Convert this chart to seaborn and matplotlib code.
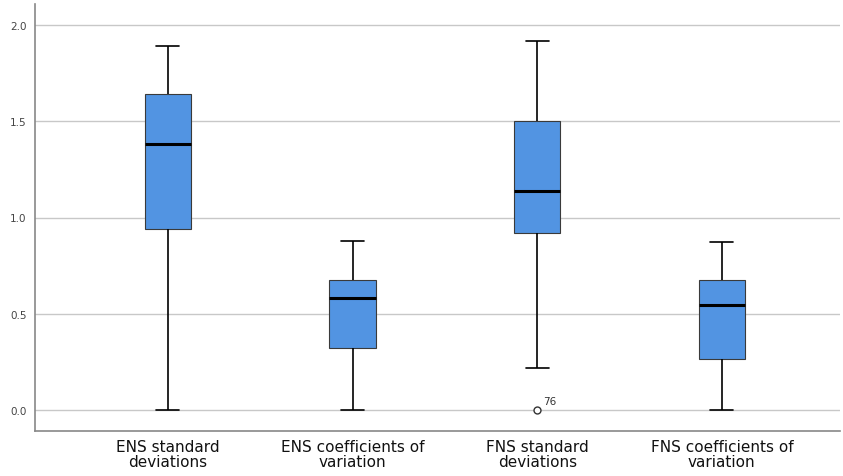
import matplotlib
matplotlib.use("Agg")
import matplotlib.pyplot as plt
import seaborn as sns
import pandas as pd

categories = ["ENS standard\ndeviations", "ENS coefficients of\nvariation",
              "FNS standard\ndeviations", "FNS coefficients of\nvariation"]
whisker_low = [0.0, 0.0, 0.22, 0.0]
q1 = [0.94, 0.32, 0.92, 0.265]
median = [1.38, 0.58, 1.14, 0.545]
q3 = [1.64, 0.675, 1.50, 0.675]
whisker_high = [1.89, 0.88, 1.92, 0.875]
outliers = [None, None, 0.0, None]
outlier_labels = [None, None, "76", None]
yticks = [0.0, 0.5, 1.0, 1.5, 2.0]

rows = []
for i, c in enumerate(categories):
    first = outliers[i] if outliers[i] is not None else whisker_low[i]
    vals = [first, whisker_low[i], q1[i], q1[i], median[i], q3[i], q3[i], q3[i], whisker_high[i]]
    for v in vals:
        rows.append({"group": c, "value": v})
df = pd.DataFrame(rows)

sns.set_style("white")
fig = plt.figure(figsize=(8.43, 4.77), dpi=100)
ax = fig.add_axes([35/843, 45/477, 805/843, 427/477])

sns.boxplot(data=df, x="group", y="value", order=categories, ax=ax,
            color="#5294e2", saturation=1, width=0.25, whis=1.5,
            linewidth=1.0, linecolor="black",
            boxprops=dict(edgecolor="#3a3a3a", linewidth=0.8),
            medianprops=dict(color="black", linewidth=2.2),
            whiskerprops=dict(color="black", linewidth=1.2),
            capprops=dict(color="black", linewidth=1.2),
            flierprops=dict(marker="o", markersize=5, markerfacecolor="white",
                            markeredgecolor="#333333", markeredgewidth=1.0))

for i, lab in enumerate(outlier_labels):
    if lab is not None:
        ax.annotate(lab, (i, outliers[i]), xytext=(4, 4), textcoords="offset points",
                    fontsize=7.5, color="#333333")

ax.set_ylim(-0.11, 2.11)
ax.set_xlim(-0.72, 3.64)
ax.set_yticks(yticks)
ax.set_yticklabels([f"{t:.1f}" for t in yticks], fontsize=7.5, color="#444444")
ax.tick_params(axis="y", length=0, pad=6)
ax.tick_params(axis="x", length=0, labelsize=11, pad=6)
for lbl in ax.get_xticklabels():
    lbl.set_linespacing(0.95)
    lbl.set_color("#111111")
ax.set_xlabel("")
ax.set_ylabel("")
ax.yaxis.grid(True, color="#c8c8c8", linewidth=1.0)
ax.set_axisbelow(True)
for s in ["top", "right"]:
    ax.spines[s].set_visible(False)
for s in ["left", "bottom"]:
    ax.spines[s].set_color("#888888")
    ax.spines[s].set_linewidth(1.2)

fig.savefig("out.png", dpi=100)
